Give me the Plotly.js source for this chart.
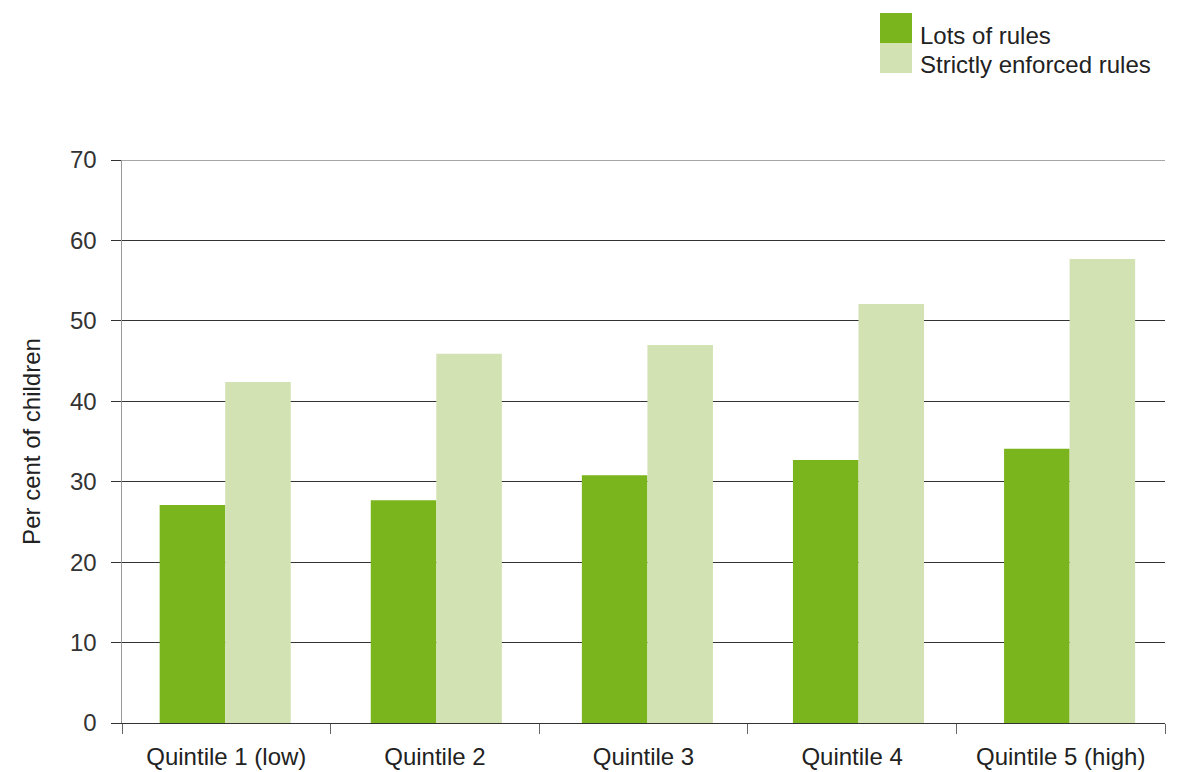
<!DOCTYPE html>
<html>
<head>
<meta charset="utf-8">
<script src="https://cdn.plot.ly/plotly-3.0.1.min.js"></script>
<style>html,body{margin:0;padding:0;background:#fff;}#chart{width:1182px;height:772px;}</style>
</head>
<body>
<div id="chart"></div>
<script>
const categories = ["Quintile 1 (low)", "Quintile 2", "Quintile 3", "Quintile 4", "Quintile 5 (high)"];
const seriesNames = ["Lots of rules", "Strictly enforced rules"];
const lotsOfRules = [27.1, 27.7, 30.8, 32.7, 34.1];
const strictlyEnforced = [42.4, 45.9, 47.0, 52.1, 57.7];
const yTicks = [0, 10, 20, 30, 40, 50, 60, 70];
const colors = ["#7ab51d", "#d3e2b3"];

const FONT = "Liberation Sans, Arial, Helvetica, sans-serif";
const PLOT_H = 563, PLOT_W = 1043, PLOT_L = 122, PLOT_B = 723;

const catIndex = categories.map((c, i) => i);

const traces = [
  // invisible trace that carries the category axis (ticks between categories, labels)
  {type: "scatter", mode: "markers", x: categories, y: categories.map(() => 0),
   marker: {opacity: 0, size: 1}, hoverinfo: "skip", showlegend: false, xaxis: "x", yaxis: "y"},
  {type: "bar", name: seriesNames[0], x: catIndex, y: lotsOfRules, marker: {color: colors[0]},
   text: categories, hoverinfo: "text+y", xaxis: "x2", yaxis: "y"},
  {type: "bar", name: seriesNames[1], x: catIndex, y: strictlyEnforced, marker: {color: colors[1]},
   text: categories, hoverinfo: "text+y", xaxis: "x2", yaxis: "y", textposition: "none"}
];
traces[1].textposition = "none";

// Custom legend with large swatches, built from series names/colours
const shapes = [];
const annotations = [];
const swH = 30 / PLOT_H;
const sx0 = (880 - PLOT_L) / PLOT_W, sx1 = (912 - PLOT_L) / PLOT_W;
const legTop = (PLOT_B - 13) / PLOT_H;
const legTextY = [35, 64];
seriesNames.forEach((nm, i) => {
  const y1 = legTop - i * swH, y0 = y1 - swH;
  shapes.push({type: "rect", xref: "paper", yref: "paper", x0: sx0, x1: sx1, y0: y0, y1: y1,
    fillcolor: colors[i], line: {width: 0}});
  annotations.push({xref: "paper", yref: "paper", x: (918 - PLOT_L) / PLOT_W, y: (PLOT_B - legTextY[i]) / PLOT_H,
    xanchor: "left", yanchor: "middle", text: nm, showarrow: false,
    font: {family: FONT, size: 24, color: "#222"}});
});
// top border line at the highest tick (gray)
shapes.push({type: "line", xref: "paper", yref: "y", x0: 0, x1: 1,
  y0: yTicks[yTicks.length - 1], y1: yTicks[yTicks.length - 1],
  line: {color: "#888", width: 1.5}});

const layout = {
  width: 1182, height: 772,
  margin: {l: PLOT_L, r: 17, t: 160, b: 49, pad: 0},
  paper_bgcolor: "#fff", plot_bgcolor: "#fff",
  showlegend: false,
  barmode: "group",
  bargap: 0.379,
  bargroupgap: 0,
  font: {family: FONT, color: "#333"},
  xaxis: {
    type: "category",
    categoryorder: "array", categoryarray: categories,
    range: [-0.5, categories.length - 0.5],
    tickson: "boundaries",
    ticks: "outside", ticklen: 10, tickcolor: "#666", tickwidth: 1,
    showgrid: false,
    showline: true, linecolor: "#333", linewidth: 1,
    tickfont: {family: FONT, size: 24, color: "#222"},
    ticklabelstandoff: 12,
    fixedrange: true
  },
  xaxis2: {
    overlaying: "x",
    range: [-0.4889, 4.4519],
    showticklabels: false, ticks: "", showgrid: false, showline: false, zeroline: false,
    fixedrange: true
  },
  yaxis: {
    range: [0, 70],
    tickvals: yTicks,
    ticks: "outside", ticklen: 10, tickcolor: "#333", tickwidth: 1,
    showgrid: true, gridcolor: "#333", gridwidth: 1,
    zeroline: false,
    showline: true, linecolor: "#999", linewidth: 1.5,
    tickfont: {family: FONT, size: 24, color: "#333"},
    ticklabelstandoff: 9,
    title: {text: "Per cent of children", font: {family: FONT, size: 24, color: "#222"}, standoff: 22},
    fixedrange: true
  },
  shapes: shapes,
  annotations: annotations
};

Plotly.newPlot("chart", traces, layout, {displayModeBar: false, staticPlot: true});
</script>
</body>
</html>
